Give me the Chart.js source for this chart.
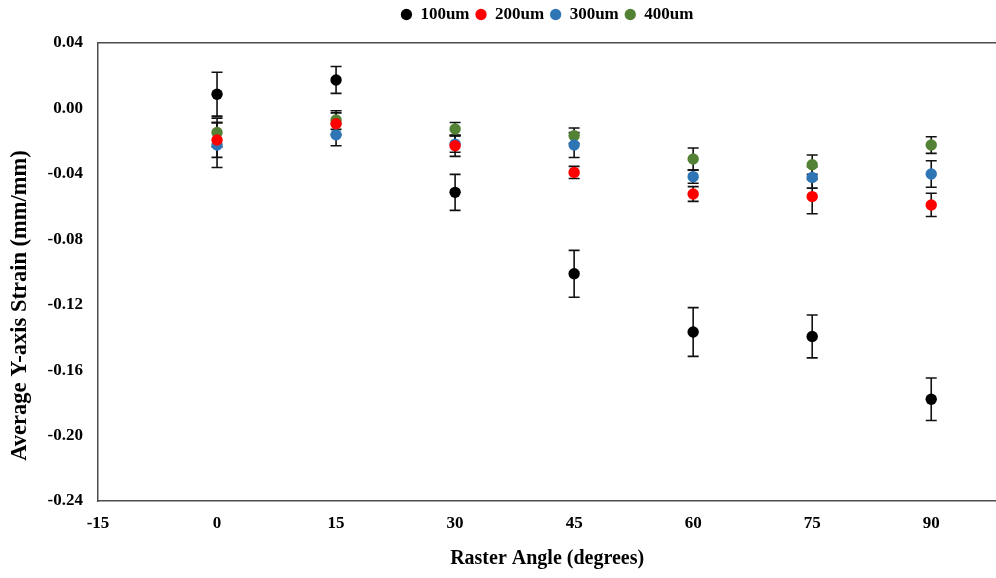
<!DOCTYPE html>
<html>
<head>
<meta charset="utf-8">
<script src="https://cdn.jsdelivr.net/npm/chart.js@4/dist/chart.umd.min.js"></script>
<style>
  html, body { margin: 0; padding: 0; background: #ffffff; overflow: hidden; }
  #wrap { width: 996px; height: 578px; overflow: hidden; }
</style>
</head>
<body>
<div id="wrap"><canvas id="strainChart" width="1002" height="578"></canvas></div>
<script>
// Raster angles (degrees)
const rasterAngles = [0, 15, 30, 45, 60, 75, 90];

// Average Y-axis strain (mm/mm) per layer thickness
const strain100 = [0.0087, 0.0174, -0.0513, -0.1011, -0.1367, -0.1394, -0.1778];
const strain200 = [-0.0193, -0.0094, -0.0228, -0.0391, -0.0523, -0.0539, -0.0590];
const strain300 = [-0.0224, -0.0161, -0.0218, -0.0224, -0.0417, -0.0422, -0.0401];
const strain400 = [-0.0147, -0.0071, -0.0126, -0.0167, -0.0309, -0.0344, -0.0224];

// Error bar half-lengths (mm/mm)
const err100 = [0.0134, 0.0082, 0.0110, 0.0143, 0.0149, 0.0131, 0.0130];
const err200 = [0.0106, 0.0067, 0.0065, 0.0037, 0.0045, 0.0105, 0.0071];
const err300 = [0.0137, 0.0067, 0.0050, 0.0076, 0.0040, 0.0065, 0.0081];
const err400 = [0.0088, 0.0057, 0.0040, 0.0047, 0.0067, 0.0059, 0.0051];

// Series names, axis ticks and titles
const seriesNames = ['100um', '200um', '300um', '400um'];
const xTickValues = [-15, 0, 15, 30, 45, 60, 75, 90];
const xTitle = 'Raster Angle (degrees)';
const yTitle = 'Average Y-axis Strain (mm/mm)';

const seriesColors = ['#000000', '#FF0000', '#2E75B6', '#548235'];
const seriesValues = [strain100, strain200, strain300, strain400];
const seriesErrors = [err100, err200, err300, err400];

const datasets = seriesNames.map((name, i) => ({
  label: name,
  data: rasterAngles.map((a, j) => ({ x: a, y: seriesValues[i][j], err: seriesErrors[i][j] })),
  backgroundColor: seriesColors[i],
  borderColor: seriesColors[i],
  pointRadius: 5.7,
  pointHoverRadius: 5.7,
  pointBorderWidth: 0,
  showLine: false
}));

const fontFamily = '"Liberation Serif", "Times New Roman", serif';
const serifBold = (size) => ({ family: fontFamily, size: size, weight: 'bold' });
const axisLine = { display: true, color: '#4d4d4d', width: 1.5 };

// Vertical error bars with caps, drawn beneath the markers
const errorBarPlugin = {
  id: 'errorBars',
  beforeDatasetsDraw(chart) {
    const { ctx, scales } = chart;
    const xs = scales.x, ys = scales.y;
    const cap = 5.5;
    ctx.save();
    ctx.strokeStyle = '#111111';
    ctx.lineWidth = 1.6;
    chart.data.datasets.forEach((ds, i) => {
      if (!chart.isDatasetVisible(i)) return;
      ds.data.forEach(p => {
        const px = xs.getPixelForValue(p.x);
        const yTop = ys.getPixelForValue(p.y + p.err);
        const yBot = ys.getPixelForValue(p.y - p.err);
        ctx.beginPath();
        ctx.moveTo(px, yTop); ctx.lineTo(px, yBot);
        ctx.moveTo(px - cap, yTop); ctx.lineTo(px + cap, yTop);
        ctx.moveTo(px - cap, yBot); ctx.lineTo(px + cap, yBot);
        ctx.stroke();
      });
    });
    ctx.restore();
  }
};

// Vertical axis title, centred on the area below the legend
const yTitlePlugin = {
  id: 'yAxisTitle',
  afterDraw(chart) {
    const { ctx, chartArea } = chart;
    const cy = (chartArea.top + chart.height) / 2 - 5;
    ctx.save();
    ctx.translate(20, cy);
    ctx.rotate(-Math.PI / 2);
    ctx.fillStyle = '#000000';
    ctx.font = 'bold 22.5px ' + fontFamily;
    ctx.textAlign = 'center';
    ctx.textBaseline = 'middle';
    ctx.fillText(yTitle, 0, 0);
    ctx.restore();
  }
};

new Chart(document.getElementById('strainChart'), {
  type: 'scatter',
  data: { datasets },
  options: {
    responsive: false,
    animation: false,
    layout: { padding: 0 },
    plugins: {
      legend: {
        display: true,
        position: 'top',
        fullSize: false,
        labels: {
          usePointStyle: true,
          pointStyle: 'circle',
          boxWidth: 11,
          boxHeight: 8,
          padding: 6,
          color: '#000000',
          font: serifBold(17)
        }
      },
      tooltip: { enabled: false }
    },
    scales: {
      x: {
        type: 'linear',
        position: 'bottom',
        min: -15,
        max: 98.2,
        grid: { display: false, drawTicks: false },
        border: axisLine,
        afterBuildTicks: (s) => { s.ticks = xTickValues.map(v => ({ value: v })); },
        afterFit: (s) => { s.height = 77; },
        ticks: {
          padding: 12,
          color: '#000000',
          font: serifBold(17),
          callback: (v) => String(v)
        },
        title: {
          display: true,
          text: xTitle,
          color: '#000000',
          font: serifBold(20),
          padding: { top: 10, bottom: 7 }
        }
      },
      xTop: {
        type: 'linear',
        position: 'top',
        display: true,
        grid: { display: false, drawTicks: false },
        border: axisLine,
        ticks: { display: false },
        afterFit: (s) => { s.height = 10; }
      },
      y: {
        type: 'linear',
        position: 'left',
        min: -0.24,
        max: 0.04,
        grid: { display: false, drawTicks: false },
        border: axisLine,
        afterFit: (s) => { s.width = 98; },
        ticks: {
          stepSize: 0.04,
          padding: 15,
          color: '#000000',
          font: serifBold(17),
          callback: (v) => (Math.abs(v) < 1e-9 ? 0 : Number(v)).toFixed(2)
        },
        title: { display: false }
      }
    }
  },
  plugins: [errorBarPlugin, yTitlePlugin]
});
</script>
</body>
</html>
